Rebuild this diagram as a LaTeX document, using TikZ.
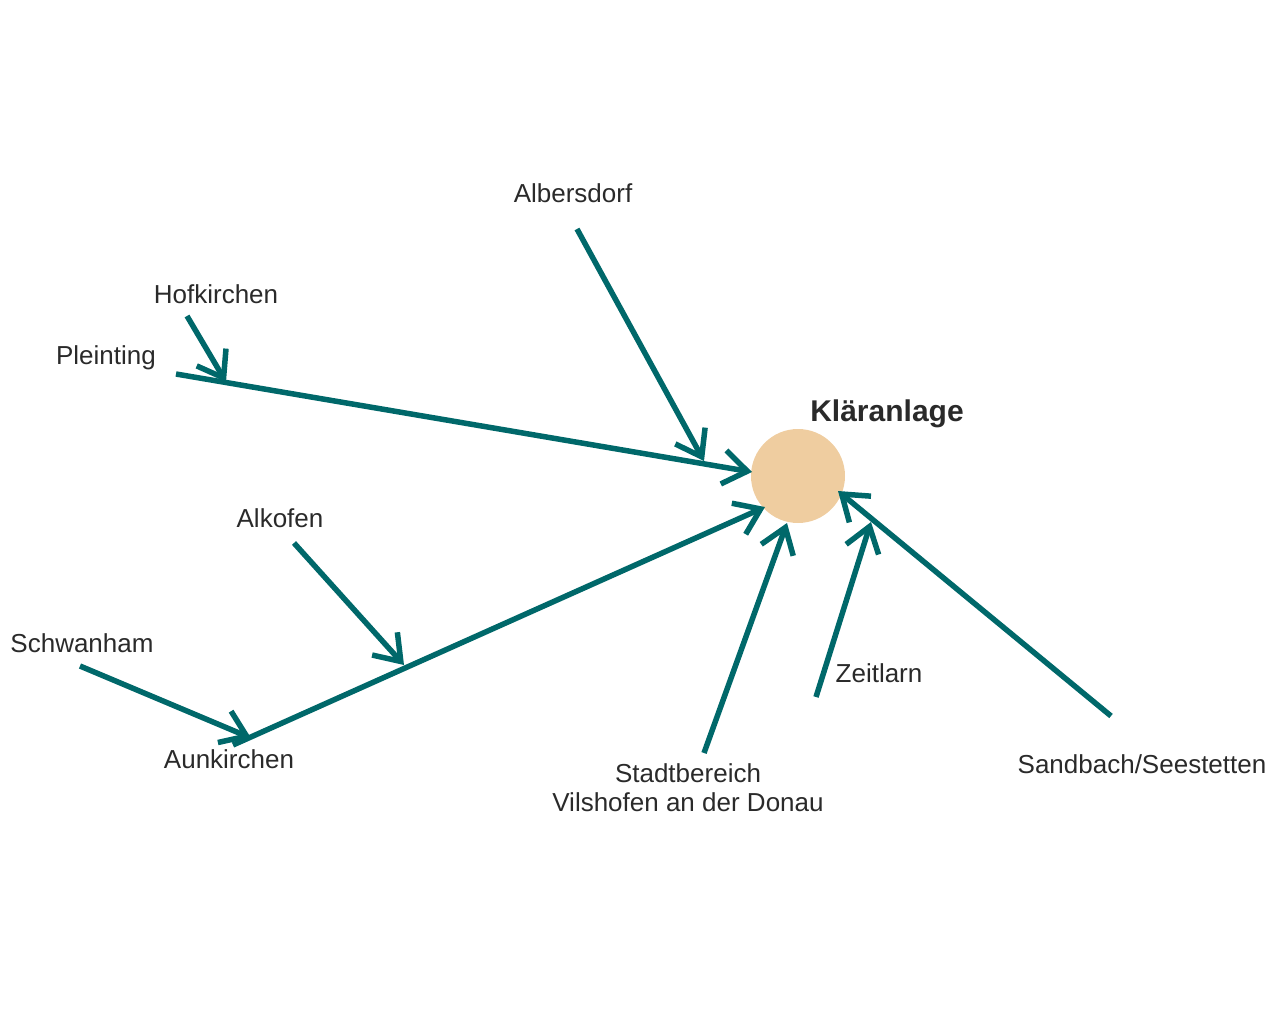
\documentclass[tikz,border=0pt]{standalone}
\usepackage{fontspec}
\setmainfont{Liberation Sans}
\usetikzlibrary{arrows.meta}
\definecolor{teal}{HTML}{00686A}
\definecolor{sand}{HTML}{EFCDA0}
\definecolor{txt}{HTML}{2A2A2A}
\tikzset{
  flow/.style={draw=teal, line width=5.5pt, -{Straight Barb[length=24pt,width=34pt,line width=5.5pt]}},
  lbl/.style={text=txt, font=\fontsize{26}{29}\selectfont, anchor=base, inner sep=0pt},
}
\begin{document}
\begin{tikzpicture}[x=1pt,y=-1pt]
\useasboundingbox (0,0) rectangle (1285,1024);
\fill[sand] (798,476) circle (47);
\node[lbl, font=\bfseries\fontsize{30}{34}\selectfont] (k) at (887,421) {Kläranlage};
\node[lbl] (alb) at (573,203) {Albersdorf};
\node[lbl] (hof) at (216,304) {Hofkirchen};
\node[lbl] (ple) at (106,364) {Pleinting};
\node[lbl] (alk) at (280,527) {Alkofen};
\node[lbl] (sch) at (82,652) {Schwanham};
\node[lbl] (aun) at (229,768) {Aunkirchen};
\node[lbl] (zei) at (879,682) {Zeitlarn};
\node[lbl, align=center, anchor=north] (sta) at (688,763) {Stadtbereich\\Vilshofen an der Donau};
\node[lbl] (san) at (1142,773) {Sandbach/Seestetten};

\coordinate (albS) at (577,229);  \coordinate (albT) at (704,461);
\coordinate (pleS) at (176,374);  \coordinate (pleT) at (752,472);
\coordinate (hofS) at (187,316);  \coordinate (hofT) at (226,382);
\coordinate (aunS) at (233,745);  \coordinate (aunT) at (765,507);
\coordinate (schS) at (80,666);   \coordinate (schT) at (251,738);
\coordinate (alkS) at (294,543);  \coordinate (alkT) at (404,665);
\coordinate (staS) at (704,753);  \coordinate (staT) at (787,523);
\coordinate (zeiS) at (816,697);  \coordinate (zeiT) at (871,522);
\coordinate (sanS) at (1111,716); \coordinate (sanT) at (838,491);

\draw[flow] (albS) -- (albT);
\draw[flow] (pleS) -- (pleT);
\draw[flow] (hofS) -- (hofT);
\draw[flow] (aunS) -- (aunT);
\draw[flow] (schS) -- (schT);
\draw[flow] (alkS) -- (alkT);
\draw[flow] (staS) -- (staT);
\draw[flow] (zeiS) -- (zeiT);
\draw[flow] (sanS) -- (sanT);
\end{tikzpicture}
\end{document}
